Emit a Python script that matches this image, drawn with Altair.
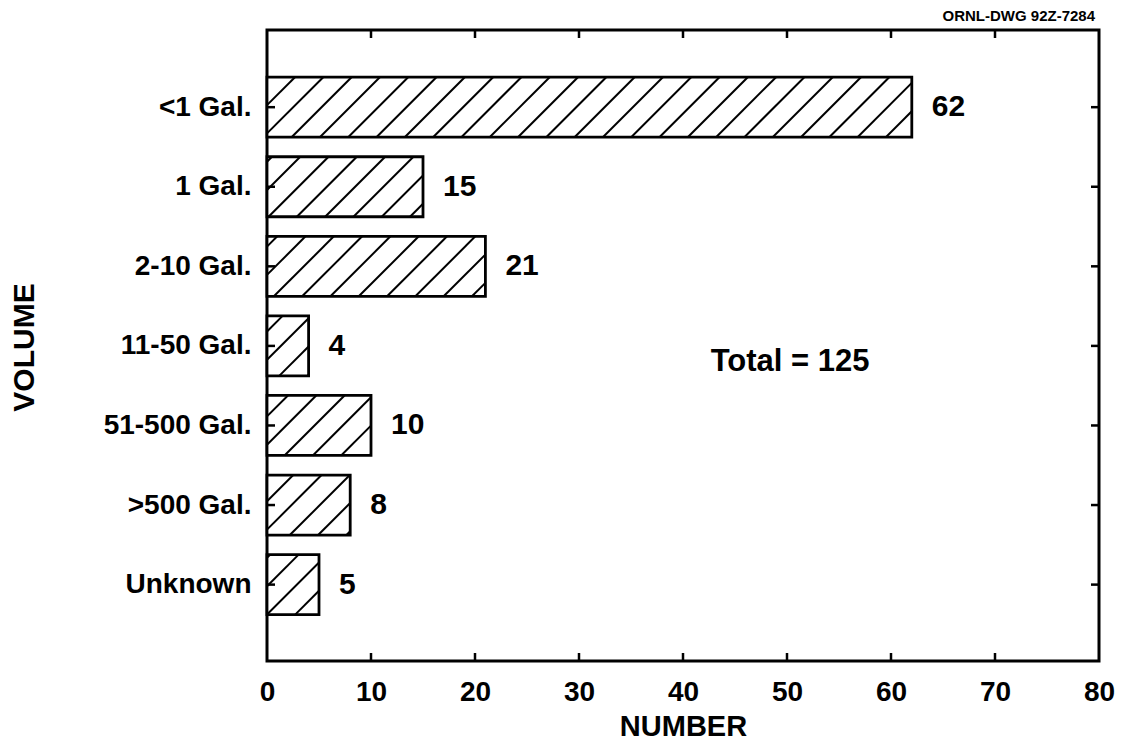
import altair as alt
import pandas as pd

categories = ["<1 Gal.", "1 Gal.", "2-10 Gal.", "11-50 Gal.", "51-500 Gal.", ">500 Gal.", "Unknown"]
counts = [62, 15, 21, 4, 10, 8, 5]
x_ticks = [0, 10, 20, 30, 40, 50, 60, 70, 80]
total_label = "Total = 125"
drawing_id = "ORNL-DWG 92Z-7284"

W, H = 832, 631
XMAX = 80
YMIN, YMAX = -0.97, 6.96
HALF = 0.377
FONT = "Liberation Sans"

idx = list(range(len(categories)))
bars = pd.DataFrame({"cat": categories, "i": idx, "n": counts,
                     "y0": [i - HALF for i in idx], "y1": [i + HALF for i in idx],
                     "zero": [0] * len(idx)})

# hatch segments ("/" lines) derived from each bar's rectangle
sx = W / XMAX
sy = H / (YMAX - YMIN)
SPACING, PHASE = 28.3, 18.5
rows = []
for i, v in zip(idx, counts):
    px0, px1 = 0.0, v * sx
    py0, py1 = (i - HALF - YMIN) * sy, (i + HALF - YMIN) * sy
    k = int((px0 + py0 - PHASE) // SPACING)
    while True:
        c = PHASE + k * SPACING
        if c > px1 + py1:
            break
        lo = max(px0, c - py1)
        hi = min(px1, c - py0)
        if hi - lo > 0.5:
            rows.append({"hx": lo / sx, "hy": (c - lo) / sy + YMIN,
                         "hx2": hi / sx, "hy2": (c - hi) / sy + YMIN})
        k += 1
hatch = pd.DataFrame(rows)

xscale = alt.Scale(domain=[0, XMAX], nice=False, zero=False)
yscale = alt.Scale(domain=[YMIN, YMAX], nice=False, zero=False, reverse=True)

label_expr = "[" + ",".join("'" + c + "'" for c in categories) + "][datum.value]"

xaxis = alt.Axis(values=x_ticks, title="NUMBER", grid=False, domain=False,
                 ticks=False, tickSize=0, labelFontSize=28, labelFontWeight="bold",
                 labelColor="black", labelPadding=17, titleFontSize=29,
                 titleFontWeight="bold", titleColor="black", titleX=416, titleY=65,
                 titleAlign="center", titleBaseline="middle", labelFlush=False)
yaxis = alt.Axis(values=idx, labelExpr=label_expr, title="VOLUME", grid=False,
                 domain=False, ticks=False, tickSize=0, labelFontSize=28,
                 labelFontWeight="bold", labelColor="black", labelPadding=16,
                 labelBaseline="middle", titleFontSize=30, titleFontWeight="bold",
                 titleColor="black", titleAngle=270, titleX=-243, titleY=317,
                 titleAlign="center", titleBaseline="middle", labelFlush=False)


def X(field):
    return alt.X(field, scale=xscale, axis=xaxis)


def Y(field):
    return alt.Y(field, scale=yscale, axis=yaxis)


base_rect = alt.Chart(bars).mark_rect(fill="white", stroke=None).encode(
    x=X("zero:Q"), x2="n:Q", y=Y("y0:Q"), y2="y1:Q",
)

hatch_layer = alt.Chart(hatch).mark_rule(color="black", strokeWidth=2, strokeCap="butt").encode(
    x=X("hx:Q"), x2="hx2:Q", y=Y("hy:Q"), y2="hy2:Q",
)

outline = alt.Chart(bars).mark_rect(fill=None, stroke="black", strokeWidth=2.8).encode(
    x=X("zero:Q"), x2="n:Q", y=Y("y0:Q"), y2="y1:Q",
)

value_labels = alt.Chart(bars).mark_text(align="left", baseline="middle", dx=20,
                                         fontSize=30, fontWeight="bold", color="black").encode(
    x=X("n:Q"), y=Y("i:Q"), text="n:Q",
)

ann = pd.DataFrame({"x": [50.3], "y": [3.2], "t": [total_label]})
total_text = alt.Chart(ann).mark_text(align="center", baseline="middle", fontSize=31,
                                      fontWeight="bold", color="black").encode(
    x=X("x:Q"), y=Y("y:Q"), text="t:N",
)

dwg = pd.DataFrame({"x": [XMAX], "y": [YMIN], "t": [drawing_id]})
dwg_text = alt.Chart(dwg).mark_text(align="right", baseline="alphabetic", dx=-4, dy=-9,
                                    fontSize=15, fontWeight="bold", color="black").encode(
    x=X("x:Q"), y=Y("y:Q"), text="t:N",
)

tick_x = pd.DataFrame({"x": x_ticks[1:-1], "yb": [YMAX] * 7, "yt": [YMIN] * 7})
bottom_ticks = alt.Chart(tick_x).mark_rule(color="black", strokeWidth=2.5, y2Offset=-8).encode(
    x=X("x:Q"), y=Y("yb:Q"), y2="yb:Q",
)
top_ticks = alt.Chart(tick_x).mark_rule(color="black", strokeWidth=2.5, y2Offset=8).encode(
    x=X("x:Q"), y=Y("yt:Q"), y2="yt:Q",
)
tick_y = pd.DataFrame({"i": idx, "xl": [0] * len(idx), "xr": [XMAX] * len(idx)})
left_ticks = alt.Chart(tick_y).mark_rule(color="black", strokeWidth=2.5, x2Offset=8).encode(
    x=X("xl:Q"), x2="xl:Q", y=Y("i:Q"),
)
right_ticks = alt.Chart(tick_y).mark_rule(color="black", strokeWidth=2.5, x2Offset=-8).encode(
    x=X("xr:Q"), x2="xr:Q", y=Y("i:Q"),
)

chart = alt.layer(
    base_rect, hatch_layer, outline, value_labels, total_text, dwg_text,
    bottom_ticks, top_ticks, left_ticks, right_ticks,
).properties(
    width=W, height=H,
    autosize=alt.AutoSizeParams(type="none"),
    padding={"left": 259, "top": 22, "right": 19, "bottom": 82},
    background="white",
).configure(font=FONT).configure_view(stroke="black", strokeWidth=3)

chart.save("out.html", embed_options={"renderer": "svg", "actions": False})
